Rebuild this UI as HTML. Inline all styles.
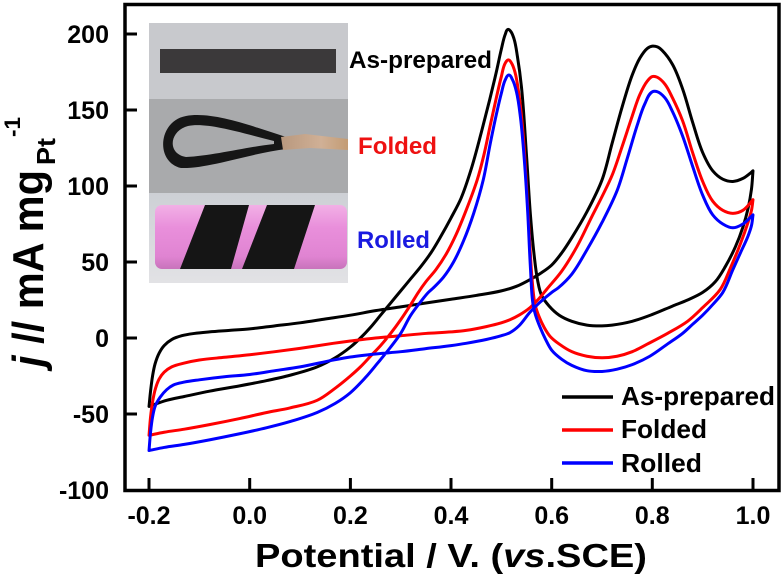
<!DOCTYPE html>
<html>
<head>
<meta charset="utf-8">
<style>
  html, body { margin: 0; padding: 0; background: #fff; }
  svg { display: block; }
  text { font-family: "Liberation Sans", Arial, sans-serif; font-weight: bold; }
</style>
</head>
<body>
<svg id="chart" width="784" height="581" viewBox="0 0 784 581" xmlns="http://www.w3.org/2000/svg">
  <defs>
    <linearGradient id="pink" x1="0" y1="0" x2="0" y2="1">
      <stop offset="0" stop-color="#f2b0e6"/>
      <stop offset="0.35" stop-color="#e98fdb"/>
      <stop offset="0.8" stop-color="#e084d2"/>
      <stop offset="1" stop-color="#c873bb"/>
    </linearGradient>
    <linearGradient id="bottomPanel" x1="0" y1="0" x2="0" y2="1">
      <stop offset="0" stop-color="#cdd0d5"/>
      <stop offset="1" stop-color="#e2e2e5"/>
    </linearGradient>
    <linearGradient id="copper" x1="0" y1="0" x2="1" y2="0">
      <stop offset="0" stop-color="#b8987e"/>
      <stop offset="0.6" stop-color="#d0b096"/>
      <stop offset="1" stop-color="#c39c74"/>
    </linearGradient>
  </defs>

  <rect x="0" y="0" width="784" height="581" fill="#fff"/>

  <!-- Inset photo -->
  <rect x="149" y="23" width="199" height="76" fill="#c8c9cd"/>
  <rect x="160" y="49" width="176" height="24" fill="#3b393a"/>
  <rect x="149" y="99" width="199" height="94" fill="#a9aaac"/>
  <path d="M286,137 C252,126 212,111 186,116 C158,121 155,162 181,168 C208,169 252,153 286,149 Z" fill="#161616"/>
  <path d="M274,141 C242,133 207,122 188,126 C169,131 167,154 186,157 C212,156 246,147 274,144 Z" fill="#a9aaac"/>
  <path d="M281,137 L305,134 L348,139 L348,150 L310,148 L283,150 Z" fill="url(#copper)"/>
  <rect x="149" y="193" width="199" height="90" fill="url(#bottomPanel)"/>
  <rect x="155" y="205" width="192" height="64" rx="7" ry="7" fill="url(#pink)"/>
  <polygon points="205,205 249,205 231,269 180,269" fill="#151515"/>
  <polygon points="267,205 315,205 294,269 242,269" fill="#151515"/>

  <!-- Inset labels -->
  <text x="349" y="68" font-size="24" fill="#000" textLength="143" lengthAdjust="spacingAndGlyphs">As-prepared</text>
  <text x="358" y="154" font-size="24" fill="#ee1111" textLength="79" lengthAdjust="spacingAndGlyphs">Folded</text>
  <text x="357" y="248" font-size="24" fill="#1a1ae0" textLength="73" lengthAdjust="spacingAndGlyphs">Rolled</text>

  <!-- Curves -->
  <g id="dataGroup" transform="matrix(503.3 0 0 -1.52 249.7 338)" fill="none" stroke-linejoin="round" stroke-linecap="round">
    <polyline class="cv" vector-effect="non-scaling-stroke" stroke="#000" stroke-width="3" points="-0.2,-45 -0.197,-35 -0.193,-25 -0.188,-17 -0.18,-10 -0.17,-5 -0.155,-1 -0.135,1.5 -0.11,3 -0.08,4 -0.04,5 0,6 0.05,8 0.1,10 0.15,12.5 0.2,15 0.25,18 0.3,20.5 0.35,23 0.4,25.5 0.45,28 0.5,31 0.53,34 0.56,39 0.58,43 0.6,48 0.62,56 0.64,66 0.67,83 0.7,104 0.72,128 0.74,152 0.76,173 0.775,184 0.79,190.5 0.8,192 0.81,191.5 0.82,189 0.84,180 0.86,164 0.88,142 0.9,122 0.92,110 0.94,104.5 0.96,103 0.98,105 0.993,108 1.0,110 0.997,98 0.99,85 0.98,73 0.965,60 0.945,47 0.925,37 0.9,30 0.87,25 0.84,21 0.8,15.5 0.76,11 0.72,8.5 0.7,8 0.67,8.5 0.64,11 0.615,15 0.595,21 0.58,28 0.572,38 0.565,55 0.558,80 0.55,120 0.54,165 0.532,185 0.525,197 0.518,202 0.513,203 0.508,200 0.5,190 0.49,175 0.477,157 0.46,135 0.44,111 0.42,92 0.4,79 0.38,67 0.36,56 0.34,47 0.32,39 0.3,31 0.28,23 0.26,15 0.24,7 0.22,0 0.2,-6 0.17,-13 0.134,-19 0.08,-24.5 0.034,-28 -0.02,-31.5 -0.08,-35 -0.13,-38.5 -0.165,-41 -0.2,-45"/>
    <polyline class="cv" vector-effect="non-scaling-stroke" stroke="#ff0000" stroke-width="3" points="-0.2,-64 -0.197,-52 -0.193,-42 -0.187,-33 -0.18,-27 -0.17,-22.5 -0.155,-19 -0.13,-16.5 -0.1,-14.5 -0.05,-12.7 0,-11 0.05,-9 0.1,-6.8 0.166,-3.5 0.2,-2 0.25,0 0.3,1.5 0.35,3 0.4,4 0.43,5 0.47,7.5 0.5,10 0.517,12 0.535,15 0.557,20 0.575,26 0.59,32 0.62,44 0.65,60 0.68,80 0.7,93 0.72,107 0.74,126 0.76,146 0.775,160 0.79,169 0.8,172 0.81,171.5 0.825,167 0.84,158 0.86,143 0.88,122 0.9,103 0.92,90 0.94,84 0.96,82 0.98,84 1.0,91 0.997,84 0.99,76 0.975,62 0.955,46 0.935,32 0.9,20 0.87,11 0.83,3 0.79,-4 0.76,-9 0.73,-12 0.7,-13 0.67,-12 0.64,-9 0.615,-4 0.597,1 0.585,7 0.575,14 0.567,22 0.562,35 0.556,65 0.55,100 0.543,135 0.535,160 0.527,175 0.52,181 0.514,183 0.508,181 0.5,172 0.49,158 0.478,140 0.465,120 0.452,104 0.43,84 0.41,68 0.39,55 0.37,45 0.35,37 0.335,30 0.32,22 0.3,12 0.28,3 0.26,-5 0.24,-12 0.22,-19 0.2,-25 0.17,-33 0.134,-41 0.08,-46 0.034,-49 -0.02,-53 -0.08,-57 -0.13,-60 -0.17,-62 -0.2,-64"/>
    <polyline class="cv" vector-effect="non-scaling-stroke" stroke="#0000ff" stroke-width="3" points="-0.2,-74 -0.197,-62 -0.193,-52 -0.188,-45 -0.178,-39 -0.165,-34 -0.152,-31 -0.13,-29 -0.1,-27.5 -0.05,-25.5 0,-24 0.05,-21.5 0.1,-19 0.166,-14.5 0.2,-12.5 0.25,-10.5 0.3,-9 0.35,-7 0.4,-5 0.43,-3.5 0.47,-1 0.5,1.5 0.517,3.5 0.535,8 0.557,17 0.575,23 0.6,30 0.613,33 0.64,42 0.67,58 0.7,76 0.73,97 0.75,118 0.77,140 0.785,154 0.8,162 0.81,162 0.825,158 0.84,149 0.86,133 0.88,113 0.9,94 0.92,81 0.94,75 0.96,72.5 0.98,75 1.0,81 0.997,74 0.99,67 0.975,56 0.96,45 0.94,30 0.92,22 0.9,15 0.88,9 0.86,3 0.83,-4 0.795,-12 0.76,-17.5 0.73,-20.5 0.7,-22 0.67,-21.5 0.64,-18 0.62,-14 0.6,-8 0.588,-1 0.577,7 0.568,15 0.563,22 0.558,45 0.552,85 0.545,120 0.538,145 0.53,162 0.522,170 0.515,173 0.508,170 0.5,161 0.49,147 0.478,128 0.464,104 0.445,82 0.425,64 0.405,50 0.385,40 0.365,33 0.355,30 0.34,24 0.32,15 0.3,3 0.28,-6 0.253,-17 0.23,-26 0.2,-36 0.17,-43 0.134,-49 0.08,-55 0.034,-59 -0.02,-63 -0.08,-67 -0.13,-70 -0.17,-72 -0.2,-74"/>
  </g>

  <!-- Frame -->
  <rect x="125" y="4.5" width="654" height="486" fill="none" stroke="#000" stroke-width="3.5"/>

  <!-- Ticks -->
  <g stroke="#000" stroke-width="3">
    <line x1="125" y1="34" x2="137" y2="34"/>
    <line x1="125" y1="110" x2="137" y2="110"/>
    <line x1="125" y1="186" x2="137" y2="186"/>
    <line x1="125" y1="262" x2="137" y2="262"/>
    <line x1="125" y1="338" x2="137" y2="338"/>
    <line x1="125" y1="414" x2="137" y2="414"/>
    <line x1="149" y1="490" x2="149" y2="478"/>
    <line x1="249.7" y1="490" x2="249.7" y2="478"/>
    <line x1="350.4" y1="490" x2="350.4" y2="478"/>
    <line x1="451" y1="490" x2="451" y2="478"/>
    <line x1="551.7" y1="490" x2="551.7" y2="478"/>
    <line x1="652.3" y1="490" x2="652.3" y2="478"/>
    <line x1="753" y1="490" x2="753" y2="478"/>
  </g>

  <!-- Y tick labels -->
  <g font-size="25" text-anchor="end" fill="#000">
    <text x="109" y="43">200</text>
    <text x="109" y="119">150</text>
    <text x="109" y="195">100</text>
    <text x="109" y="271">50</text>
    <text x="109" y="347">0</text>
    <text x="109" y="423">-50</text>
    <text x="109" y="499">-100</text>
  </g>

  <!-- X tick labels -->
  <g font-size="25" text-anchor="middle" fill="#000">
    <text x="149" y="524">-0.2</text>
    <text x="249.7" y="524">0.0</text>
    <text x="350.4" y="524">0.2</text>
    <text x="451" y="524">0.4</text>
    <text x="551.7" y="524">0.6</text>
    <text x="652.3" y="524">0.8</text>
    <text x="753" y="524">1.0</text>
  </g>

  <!-- X axis title -->
  <text x="255" y="567" font-size="33" fill="#000" textLength="392" lengthAdjust="spacingAndGlyphs">Potential / V. (<tspan font-style="italic">vs</tspan>.SCE)</text>

  <!-- Y axis title -->
  <text transform="translate(43,367) rotate(-90)" font-size="44" fill="#000" textLength="197" lengthAdjust="spacingAndGlyphs"><tspan font-style="italic">j</tspan> // mA mg</text>
  <text transform="translate(55,165) rotate(-90)" font-size="26" fill="#000" textLength="27" lengthAdjust="spacingAndGlyphs">Pt</text>
  <text transform="translate(20,137) rotate(-90)" font-size="22" fill="#000" textLength="20" lengthAdjust="spacingAndGlyphs">-1</text>

  <!-- Legend -->
  <g stroke-width="3.5">
    <line x1="562" y1="397" x2="613" y2="397" stroke="#000"/>
    <line x1="562" y1="430" x2="613" y2="430" stroke="#ff0000"/>
    <line x1="562" y1="463" x2="613" y2="463" stroke="#0000ff"/>
  </g>
  <g font-size="26" fill="#000">
    <text x="621" y="405" textLength="154" lengthAdjust="spacingAndGlyphs">As-prepared</text>
    <text x="621" y="438" textLength="86" lengthAdjust="spacingAndGlyphs">Folded</text>
    <text x="621" y="472" textLength="81" lengthAdjust="spacingAndGlyphs">Rolled</text>
  </g>
</svg>
<script>
(function(){
  try {
    var NS = "http://www.w3.org/2000/svg";
    var group = document.getElementById("dataGroup");
    var parent = group.parentNode;
    var pls = Array.prototype.slice.call(group.querySelectorAll("polyline.cv"));
    pls.forEach(function(pl){
      var raw = pl.getAttribute("points").trim().split(/\s+/);
      var vs = [], pts = [];
      raw.forEach(function(s){
        var a = s.split(",");
        var v = parseFloat(a[0]), j = parseFloat(a[1]);
        vs.push(v);
        pts.push([249.7 + 503.3*v, 338 - 1.52*j]);
      });
      var n = pts.length;
      function isCorner(i){
        return i === 0 || i === n-1 || Math.abs(vs[i]-1) < 1e-6 || Math.abs(vs[i]+0.2) < 1e-6;
      }
      function unit(dx, dy){ var l = Math.sqrt(dx*dx+dy*dy) || 1; return [dx/l, dy/l]; }
      var dIn = [], dOut = [];
      for (var i = 0; i < n; i++) {
        var a = i > 0 ? unit(pts[i][0]-pts[i-1][0], pts[i][1]-pts[i-1][1]) : null;
        var b = i < n-1 ? unit(pts[i+1][0]-pts[i][0], pts[i+1][1]-pts[i][1]) : null;
        if (isCorner(i) || !a || !b) {
          dIn[i] = a || b; dOut[i] = b || a;
        } else {
          var t = unit(a[0]+b[0], a[1]+b[1]);
          dIn[i] = t; dOut[i] = t;
        }
      }
      var d = "M" + pts[0][0].toFixed(2) + "," + pts[0][1].toFixed(2);
      for (var k = 0; k < n-1; k++) {
        var p = pts[k], q = pts[k+1];
        var L = Math.sqrt((q[0]-p[0])*(q[0]-p[0]) + (q[1]-p[1])*(q[1]-p[1])) / 3;
        var c1 = [p[0] + dOut[k][0]*L, p[1] + dOut[k][1]*L];
        var c2 = [q[0] - dIn[k+1][0]*L, q[1] - dIn[k+1][1]*L];
        d += " C" + c1[0].toFixed(2) + "," + c1[1].toFixed(2) + " " + c2[0].toFixed(2) + "," + c2[1].toFixed(2) + " " + q[0].toFixed(2) + "," + q[1].toFixed(2);
      }
      var path = document.createElementNS(NS, "path");
      path.setAttribute("d", d);
      path.setAttribute("fill", "none");
      path.setAttribute("stroke", pl.getAttribute("stroke"));
      path.setAttribute("stroke-width", "3");
      path.setAttribute("stroke-linejoin", "round");
      path.setAttribute("stroke-linecap", "round");
      parent.insertBefore(path, group);
      pl.parentNode.removeChild(pl);
    });
  } catch (e) {}
})();
</script>
</body>
</html>
